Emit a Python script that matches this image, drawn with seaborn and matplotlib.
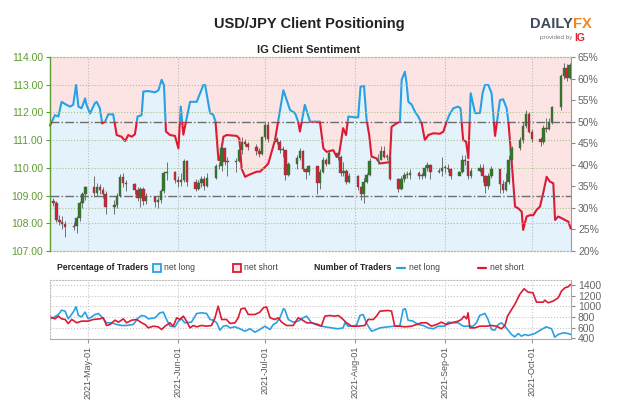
import numpy as np
import pandas as pd
import seaborn as sns
import matplotlib.pyplot as plt
import matplotlib.dates as mdates
from matplotlib.patches import Rectangle
from matplotlib.lines import Line2D

sns.set_style('white')
plt.rcParams['font.family'] = ['Liberation Sans', 'DejaVu Sans']

# daily USD/JPY candles, 2021-04-19 .. 2021-10-14 (business days)
start = pd.Timestamp('2021-04-19')
days = pd.bdate_range('2021-04-19', '2021-10-14')
first_open = 108.80
close = [108.75, 108.12, 108.05, 107.98, 107.88, 107.90, 108.18, 108.75, 109.05, 109.30,
         109.10, 109.30, 109.20, 109.05, 108.60, 108.65, 109.00, 109.68, 109.45, 109.40,
         109.20, 108.90, 109.25, 108.80, 108.95, 108.78, 108.85, 109.15, 109.80, 109.85, 109.55,
         109.50, 109.55, 110.25, 109.50, 109.25, 109.45, 109.60, 109.35, 109.65, 110.05,
         110.05, 110.70, 110.20, 110.20, 110.25, 110.65, 110.95, 110.85, 110.75, 110.60, 110.50, 111.10,
         111.55, 111.05, 110.95, 110.65, 110.65, 109.75, 110.15, 110.35, 110.60, 109.95,
         109.85, 110.05, 109.45, 109.85, 110.30, 110.15, 110.55, 110.40, 109.80, 109.90, 109.50, 109.70,
         109.30, 109.05, 109.50, 109.75, 110.25, 110.30, 110.60, 110.40, 110.40, 109.60,
         109.25, 109.60, 109.75, 109.75, 109.80, 109.70, 109.70, 110.00, 110.10, 109.85, 109.90, 110.00,
         110.00, 109.95, 109.70, 109.85, 110.30, 110.25, 109.70, 109.90, 110.00, 109.70,
         109.35, 109.70, 109.95, 109.40, 109.20, 109.50, 110.30, 110.70, 111.00, 111.50, 111.95, 111.30,
         111.05, 110.95, 111.45, 111.40, 111.65, 112.20, 113.30, 113.60, 113.25, 113.70]
high = [108.92, 108.80, 108.30, 108.25, 108.10, 108.05, 108.25, 108.80, 109.12, 109.35,
        109.70, 109.45, 109.40, 109.30, 109.15, 108.85, 109.10, 109.78, 109.80, 109.55,
        109.45, 109.30, 109.30, 109.30, 109.10, 109.00, 108.95, 109.25, 109.90, 110.20, 109.90,
        109.70, 109.80, 110.32, 110.30, 109.60, 109.55, 109.70, 109.70, 109.80, 110.15,
        110.20, 110.82, 110.70, 110.40, 110.35, 110.80, 111.10, 111.05, 110.95, 110.85, 110.70, 111.15,
        111.66, 111.65, 111.10, 111.00, 110.80, 110.65, 110.20, 110.45, 110.70, 110.65,
        110.00, 110.10, 110.05, 109.95, 110.40, 110.35, 110.60, 110.60, 110.45, 110.20, 109.95, 109.80,
        109.75, 109.35, 109.65, 109.80, 110.35, 110.50, 110.80, 110.80, 110.50, 110.45,
        109.65, 109.70, 109.85, 109.90, 109.95, 109.90, 109.80, 110.10, 110.20, 110.15, 110.00, 110.40,
        110.10, 110.15, 110.00, 109.90, 110.45, 110.45, 110.20, 110.00, 110.15, 110.15,
        109.75, 109.80, 110.05, 109.95, 109.55, 109.80, 110.45, 110.80, 111.10, 111.65, 112.08, 112.00,
        111.40, 111.10, 111.55, 111.80, 111.80, 112.25, 113.40, 113.80, 113.75, 113.80]
low = [108.62, 108.05, 107.95, 107.80, 107.50, 107.75, 107.65, 108.10, 108.55, 108.85,
       108.95, 109.00, 109.05, 108.90, 108.35, 108.35, 108.55, 108.95, 109.30, 109.15,
       109.05, 108.80, 108.60, 108.65, 108.70, 108.60, 108.55, 108.75, 109.10, 109.55, 109.45,
       109.30, 109.35, 109.50, 109.35, 109.15, 109.20, 109.30, 109.20, 109.30, 109.60,
       109.95, 109.90, 110.10, 109.70, 109.85, 110.20, 110.50, 110.80, 110.65, 110.45, 110.40, 110.45,
       111.00, 110.95, 110.85, 110.55, 110.40, 109.55, 109.70, 109.95, 110.30, 109.90,
       109.60, 109.75, 109.06, 109.25, 109.80, 110.05, 110.15, 110.30, 109.70, 109.70, 109.40, 109.45,
       109.20, 108.85, 108.75, 109.45, 109.70, 110.15, 110.30, 110.35, 110.30, 109.55,
       109.12, 109.20, 109.50, 109.65, 109.60, 109.60, 109.60, 109.65, 109.90, 109.60, 109.80, 109.70,
       109.80, 109.85, 109.60, 109.75, 109.80, 110.10, 109.60, 109.65, 109.85, 109.50,
       109.10, 109.25, 109.65, 109.10, 109.10, 109.15, 109.40, 110.25, 110.65, 110.90, 111.45, 111.25,
       110.95, 110.80, 110.85, 111.30, 111.35, 111.60, 112.10, 113.20, 113.15, 113.20]
opn = [first_open] + close[:-1]

# IG client sentiment: % of traders net long (day offset from 2021-04-19)
sent_day = [-1.2, 0.5, 1.7, 2.8, 4.5, 5.7, 6.8, 7.8, 8.6, 9.7, 10.9, 11.4, 12.6, 14.3, 14.9, 16.0,
            16.8, 17.8, 18.9, 20.6, 21.8, 23.5, 24.7, 25.8, 27.0, 28.1, 29.0, 30.4, 31.0, 32.7,
            35.0, 36.2, 37.3, 38.1, 38.8, 40.2, 41.9, 43.1, 43.9, 44.8, 47.1, 49.4, 51.7, 52.3,
            54.0, 55.1, 55.9, 56.9, 57.4, 58.6, 59.7, 63.2, 64.1, 64.9, 66.1, 67.2, 70.1, 71.2,
            73.0, 74.1, 76.4, 79.3, 81.6, 83.3, 84.4, 85.0, 86.7, 88.5, 91.9, 93.1, 94.2, 96.5,
            97.7, 98.5, 99.9, 100.9, 101.7, 104.0, 105.1, 105.9, 107.1, 108.0, 108.9, 109.7,
            111.4, 112.6, 116.0, 116.6, 118.3, 119.5, 120.1, 121.2, 121.8, 122.4, 123.5, 124.7,
            125.8, 127.0, 128.1, 129.3, 131.0, 133.3, 134.5, 135.6, 136.5, 137.9, 139.6, 140.4,
            141.3, 142.3, 143.1, 143.9, 145.4, 147.1, 148.0, 148.8, 150.0, 151.1, 152.3, 154.0,
            155.1, 156.3, 156.9, 158.0, 159.2, 160.3, 161.5, 162.0, 163.2, 164.3, 165.5, 166.6,
            167.8, 168.9, 170.1, 171.2, 172.4, 173.0, 174.1, 175.3, 176.4, 177.6, 178.4]
sent_pct = [49.1, 51.5, 51.2, 54.6, 53.9, 53.5, 53.9, 58.5, 53.5, 53.1, 55.4, 53.9, 51.9, 54.3, 54.6, 53.1,
            49.6, 50.0, 51.7, 51.7, 46.9, 46.5, 45.5, 46.9, 46.5, 47.1, 51.2, 51.5, 57.0, 57.1,
            56.8, 57.3, 59.7, 58.5, 47.7, 46.9, 46.7, 43.8, 53.5, 47.0, 54.6, 54.6, 58.5, 58.5,
            52.0, 51.6, 50.0, 41.1, 41.1, 46.5, 46.9, 46.7, 46.1, 39.1, 37.2, 37.6, 38.4, 38.4,
            39.5, 40.3, 45.7, 57.3, 52.7, 52.0, 50.0, 47.7, 53.9, 50.0, 50.0, 43.8, 43.0, 43.4,
            41.8, 42.4, 48.5, 46.9, 51.2, 51.0, 51.0, 58.1, 58.3, 50.4, 46.9, 41.9,
            41.5, 40.3, 40.6, 48.8, 49.6, 50.0, 59.7, 61.6, 58.9, 54.6, 54.0, 52.3,
            51.2, 49.6, 45.7, 46.9, 47.3, 47.2, 47.7, 50.0, 51.5, 53.1, 53.5, 53.1,
            45.7, 45.4, 41.5, 56.6, 52.0, 52.0, 56.6, 58.5, 58.5, 56.6, 46.7, 55.0,
            55.2, 53.1, 50.0, 41.1, 30.3, 29.9, 29.1, 24.9, 28.0, 28.3, 28.3, 29.5,
            30.3, 33.4, 37.2, 36.1, 35.7, 27.2, 28.0, 27.6, 27.2, 26.8, 25.2]

# number of traders
short_day = [-1.2, 0.5, 1.7, 2.8, 4.0, 5.1, 6.3, 8.0, 9.7, 12.0, 13.7, 16.0, 17.2, 18.3, 19.5, 21.2,
             22.4, 24.1, 25.2, 27.0, 28.7, 30.4, 31.6, 32.7, 34.4, 36.1, 37.3, 38.5, 40.2, 41.3,
             42.5, 43.6, 44.8, 45.9, 47.1, 48.2, 49.4, 51.1, 52.8, 54.5, 55.7, 56.8, 58.0, 59.7,
             60.9, 62.6, 63.7, 64.7, 66.0, 67.2, 69.5, 71.2, 72.4, 73.5, 74.7, 76.4, 77.5, 78.7,
             80.4, 82.7, 84.4, 85.6, 87.3, 89.0, 91.3, 92.4, 93.6, 95.3, 97.0, 98.2, 99.3, 101.1,
             102.8, 105.1, 107.4, 108.5, 110.3, 111.4, 112.6, 115.4, 116.6, 117.7, 119.5, 121.2,
             123.5, 125.2, 126.9, 128.7, 130.4, 132.1, 133.8, 135.5, 137.3, 139.6, 140.7, 141.6,
             142.5, 143.0, 143.6, 145.3, 147.0, 149.3, 151.1, 152.8, 154.5, 155.7, 156.6, 158.0,
             159.1, 160.8, 162.3, 163.7, 165.4, 166.6, 167.7, 168.9, 169.5, 170.6, 172.3, 174.1,
             175.2, 176.4, 177.5, 178.4]
short_cnt = [803, 766, 816, 766, 754, 679, 754, 692, 723, 723, 754, 766, 785, 642, 660, 741,
             704, 766, 692, 741, 754, 692, 660, 598, 629, 617, 567, 629, 692, 629,
             785, 754, 816, 723, 598, 642, 617, 642, 629, 642, 785, 1002, 754, 754,
             679, 692, 785, 953, 965, 847, 847, 891, 971, 990, 785, 754, 785, 704,
             642, 642, 785, 754, 692, 692, 660, 629, 816, 828, 816, 828, 785, 692,
             629, 629, 642, 754, 754, 816, 909, 922, 909, 629, 629, 617,
             629, 660, 692, 692, 629, 660, 704, 660, 692, 723, 754, 816,
             766, 878, 598, 598, 629, 629, 642, 629, 580, 642, 816, 940,
             1034, 1220, 1326, 1264, 1251, 1077, 1077, 1077, 1114, 1065, 1096, 1158,
             1282, 1345, 1363, 1407]
long_day = [-1.2, -0.1, 1.7, 2.8, 4.0, 5.1, 6.8, 7.8, 8.6, 9.7, 10.9, 12.0, 13.2, 14.3, 15.5, 16.6,
            18.3, 20.1, 21.8, 23.5, 25.2, 27.5, 29.3, 30.4, 31.6, 32.7, 35.0, 36.7, 37.9, 39.0,
            40.2, 41.9, 43.1, 44.2, 45.3, 47.6, 49.4, 51.1, 52.8, 54.0, 55.1, 56.3, 57.4, 58.6,
            59.7, 60.9, 62.6, 64.3, 66.0, 67.8, 69.5, 71.2, 72.9, 74.7, 75.8, 76.9, 78.1, 79.3,
            79.8, 81.0, 82.7, 84.4, 86.1, 87.3, 89.0, 91.3, 93.6, 95.9, 98.2, 99.9, 100.5, 101.6,
            102.8, 104.5, 105.7, 106.8, 108.0, 109.7, 110.8, 112.6, 115.4, 117.7, 119.5, 120.6,
            121.4, 122.3, 124.0, 125.8, 127.5, 129.2, 131.0, 132.7, 135.0, 136.1, 137.9, 139.6,
            141.3, 143.0, 144.7, 145.9, 147.0, 148.8, 149.9, 151.1, 152.2, 153.4, 154.5, 155.7,
            156.8, 158.0, 159.1, 160.3, 161.4, 162.6, 163.7, 166.0, 168.3, 170.0, 171.8, 172.9,
            174.1, 175.8, 177.5, 178.4]
long_cnt = [766, 785, 847, 928, 909, 766, 891, 990, 828, 803, 891, 766, 803, 847, 866, 803,
            692, 692, 660, 642, 642, 660, 785, 828, 816, 766, 785, 878, 891, 754,
            629, 617, 723, 766, 692, 704, 866, 878, 866, 754, 741, 692, 555, 629,
            642, 598, 617, 580, 536, 580, 517, 567, 629, 567, 660, 692, 785, 953,
            940, 754, 704, 723, 785, 816, 692, 642, 617, 598, 580, 598, 692, 629,
            629, 642, 828, 847, 679, 536, 555, 598, 617, 629, 642, 940,
            953, 741, 723, 660, 642, 598, 580, 629, 629, 704, 692, 692,
            629, 629, 629, 692, 828, 866, 754, 567, 555, 660, 692, 629,
            555, 474, 430, 492, 443, 474, 455, 492, 567, 617, 580, 424,
            474, 505, 492, 474]

price_ticks = [107, 108, 109, 110, 111, 112, 113, 114]
pct_ticks = [20, 25, 30, 35, 40, 45, 50, 55, 60, 65]
count_ticks = [400, 600, 800, 1000, 1200, 1400]


def to_dates(d):
    return start + pd.to_timedelta(np.array(d), unit='D')


BLUE = '#2aa0e4'
RED = '#dc1a34'
GREEN_TXT = '#5e9c2f'
GRID_G = '#a9c28c'

fig = plt.figure(figsize=(6.24, 4.16), dpi=100)
x0, x1 = start - pd.Timedelta(days=1.2), start + pd.Timedelta(days=178.5)

# ---------- main panel ----------
pc = fig.add_axes([50 / 624, 165 / 416, 521 / 624, 194 / 416])
pr = pc.twinx()
pc.set_xlim(x0, x1)
pc.set_ylim(20, 65)
sd = to_dates(sent_day)
pc.fill_between(sd, sent_pct, 65, color='#fde4e4', lw=0, zorder=1)
pc.fill_between(sd, 20, sent_pct, color='#e4f2fc', lw=0, zorder=1)

months = pd.date_range('2021-05-01', '2021-10-01', freq='MS')
for m in months:
    pc.axvline(m, color='#b9b9b9', ls=':', lw=0.8, zorder=1.5)
pc.axhline(30, color=GRID_G, ls=':', lw=0.8, zorder=1.5)
pc.axhline(50, color='#6d6d6d', ls='-.', lw=1.0, zorder=1.6)

sent_df = pd.DataFrame({'date': sd, 'pct': sent_pct})
sns.lineplot(data=sent_df, x='date', y='pct', ax=pc, color=RED, lw=1.5, zorder=3)
sns.lineplot(data=sent_df, x='date', y='pct', ax=pc, color=BLUE, lw=1.5, zorder=3)
xa, xb = mdates.date2num(x0) - 5, mdates.date2num(x1) + 5
low_clip = Rectangle((xa, 0), xb - xa, 50, transform=pc.transData)
high_clip = Rectangle((xa, 50), xb - xa, 60, transform=pc.transData)
pc.lines[-2].set_clip_path(low_clip)
pc.lines[-1].set_clip_path(high_clip)

pc.set_xticks(months)
pc.tick_params(axis='x', bottom=False, labelbottom=False)
pc.set_xlabel('')
pc.set_ylabel('')
for s in ['top', 'bottom']:
    pc.spines[s].set_linestyle(':')
    pc.spines[s].set_color(GRID_G)
    pc.spines[s].set_linewidth(0.9)

pr.set_xlim(x0, x1)
pr.set_ylim(107, 114)
for p in price_ticks[1:-1]:
    if p == 109:
        pr.axhline(p, color='#6d6d6d', ls='-.', lw=1.0, zorder=0.5)
    else:
        pr.axhline(p, color=GRID_G, ls=':', lw=0.8, zorder=0.5)

xd = mdates.date2num(days)
o = np.array(opn)
c = np.array(close)
body_lo = np.minimum(o, c)
body_h = np.maximum(np.abs(c - o), 0.03)
cols = np.where(c >= o, '#2f7a22', '#d42030')
pr.vlines(xd, low, high, color='#6f6f6f', lw=0.7, zorder=2)
pr.bar(xd, body_h, bottom=body_lo, width=0.85, color=cols, edgecolor='#555555',
       linewidth=0.3, zorder=3)

# axis sides: price on the left, percentage on the right
pr.yaxis.tick_left()
pr.yaxis.set_label_position('left')
pc.yaxis.tick_right()
pc.yaxis.set_label_position('right')

pc.set_yticks(pct_ticks)
pc.set_yticklabels([f'{t}%' for t in pct_ticks])
pc.tick_params(axis='y', left=False, right=True, labelleft=False, labelright=True,
               direction='out', length=3, width=0.8,
               color='#888888', labelcolor='#666666', labelsize=7.5, pad=2)
pr.set_yticks(price_ticks)
pr.set_yticklabels([f'{p:.2f}' for p in price_ticks])
pr.tick_params(axis='y', left=True, right=False, labelleft=True, labelright=False,
               direction='out', length=3, width=0.8,
               color=GREEN_TXT, labelcolor=GREEN_TXT, labelsize=7.5, pad=2)
pr.set_ylabel('')
pc.spines['left'].set_visible(False)
pc.spines['right'].set_color('#999999')
pc.spines['right'].set_linewidth(0.8)
for s in ['top', 'bottom', 'right']:
    pr.spines[s].set_visible(False)
pr.spines['left'].set_color(GREEN_TXT)
pr.spines['left'].set_linewidth(1.0)

# ---------- bottom panel ----------
bt = fig.add_axes([50 / 624, 77 / 416, 521 / 624, 59 / 416])
sns.lineplot(x=to_dates(long_day), y=long_cnt, ax=bt, color=BLUE, lw=1.2)
sns.lineplot(x=to_dates(short_day), y=short_cnt, ax=bt, color=RED, lw=1.2)
bt.set_xlim(x0, x1)
bt.set_ylim(390, 1490)
for v in count_ticks[1:]:
    bt.axhline(v, color='#c4c4c4', ls=':', lw=0.8, zorder=0)
for m in months:
    bt.axvline(m, color='#c4c4c4', ls=':', lw=0.8, zorder=0)
bt.yaxis.tick_right()
bt.set_yticks(count_ticks)
bt.tick_params(axis='y', right=True, direction='out', length=3, width=0.8,
               color='#888888', labelcolor='#666666', labelsize=7.5, pad=2)
bt.set_xticks(months)
bt.set_xticklabels([m.strftime('%Y-%b-%d') for m in months])
bt.tick_params(axis='x', bottom=True, direction='out', length=3, width=0.8,
               color='#999999', labelcolor='#555555', labelsize=6.5, rotation=90, pad=2)
bt.set_xlabel('')
bt.set_ylabel('')
for s in ['top', 'left']:
    bt.spines[s].set_linestyle(':')
    bt.spines[s].set_color('#bdbdbd')
    bt.spines[s].set_linewidth(0.8)
for s in ['bottom', 'right']:
    bt.spines[s].set_color('#aaaaaa')
    bt.spines[s].set_linewidth(0.8)

# ---------- titles ----------
fig.text(0.495, 1 - 24 / 416, 'USD/JPY Client Positioning', ha='center', va='center',
         fontsize=10.5, fontweight='bold', color='#222222')
fig.text(0.495, 1 - 50 / 416, 'IG Client Sentiment', ha='center', va='center',
         fontsize=8, fontweight='bold', color='#222222')

# logo
fig.text(573 / 624, 1 - 24 / 416, 'DAILY', ha='right', va='center', fontsize=10.5,
         fontweight='bold', color='#3e4b5b')
fig.text(573 / 624, 1 - 24 / 416, 'FX', ha='left', va='center', fontsize=10.5,
         fontweight='bold', color='#f2861e')
fig.text(572 / 624, 1 - 38 / 416, 'provided by', ha='right', va='center', fontsize=4.5,
         color='#777777')
fig.text(574 / 624, 1 - 38 / 416, 'IG', ha='left', va='center', fontsize=7.5,
         fontweight='bold', color='#e4222e')

# ---------- legend row ----------
ly = 1 - 268 / 416
leg_kw = dict(ha='left', va='center', fontsize=6.2)
fig.text(57 / 624, ly, 'Percentage of Traders', fontweight='bold', color='#222222', **leg_kw)
fig.add_artist(Rectangle((153 / 624, ly - 4 / 416), 8 / 624, 8 / 416, transform=fig.transFigure,
                         facecolor='#e4f2fc', edgecolor=BLUE, lw=1.3))
fig.text(164 / 624, ly, 'net long', color='#444444', **leg_kw)
fig.add_artist(Rectangle((233 / 624, ly - 4 / 416), 8 / 624, 8 / 416, transform=fig.transFigure,
                         facecolor='#fde4e4', edgecolor=RED, lw=1.3))
fig.text(244 / 624, ly, 'net short', color='#444444', **leg_kw)
fig.text(314 / 624, ly, 'Number of Traders', fontweight='bold', color='#222222', **leg_kw)
fig.add_artist(Line2D([397 / 624, 405 / 624], [ly, ly], transform=fig.transFigure,
                      color=BLUE, lw=1.6))
fig.text(409 / 624, ly, 'net long', color='#444444', **leg_kw)
fig.add_artist(Line2D([478 / 624, 486 / 624], [ly, ly], transform=fig.transFigure,
                      color=RED, lw=1.6))
fig.text(490 / 624, ly, 'net short', color='#444444', **leg_kw)

fig.savefig('out.png', dpi=100)
